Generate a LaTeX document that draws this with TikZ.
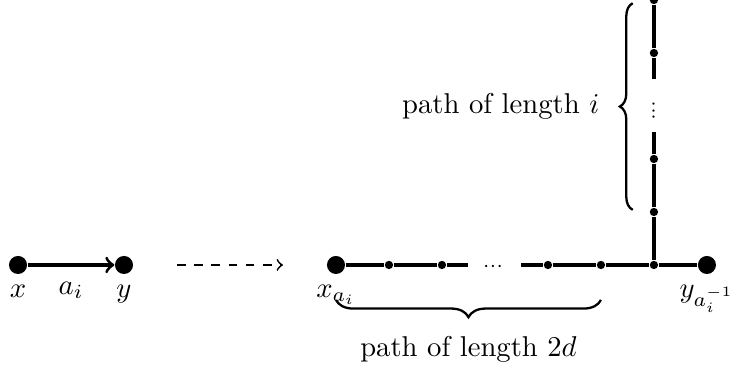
\documentclass[tikz,border=0pt]{standalone}
\usepackage{amsmath}
\usetikzlibrary{positioning}
\usetikzlibrary{decorations.pathreplacing}

\begin{document}
\begin{tikzpicture}[x=0.65cm, y=0.65cm,
  bigdot/.style={circle, fill=black, inner sep=0pt, minimum size=6.3pt},
  smalldot/.style={circle, fill=black, inner sep=0pt, minimum size=2.9pt},
  pathedge/.style={line width=1.4pt},
  gapdots/.style={inner sep=0pt},
  bracestyle/.style={decorate, decoration={brace, amplitude=#1}, thick},
  bracestyle/.default=4.5pt]

\useasboundingbox (-0.34,-1.98) rectangle (13.53,5);

% single edge
\node[bigdot, label={below:$x$}] (x) at (0,0) {};
\node[bigdot, label={below:$y$}] (y) at (2,0) {};
\draw[line width=1.1pt, ->] (x) -- node[below=2pt] {$a_i$} (y);

\coordinate (d1) at (3,0);
\coordinate (d2) at (5,0);
\draw[dashed, semithick, ->] (d1) -- (d2);

% horizontal path
\node[bigdot, label={below:$x_{a_i}$}] (xa) at (6,0) {};
\node[smalldot] (h1) at (7,0) {};
\node[smalldot] (h2) at (8,0) {};
\coordinate (h2e) at (8.5,0);
\node[gapdots] (hdots) at (9,-0.03) {$\scriptstyle\cdots$};
\coordinate (h3s) at (9.5,0);
\node[smalldot] (h3) at (10,0) {};
\node[smalldot] (h4) at (11,0) {};
\node[smalldot] (h5) at (12,0) {};
\node[bigdot, label={below:$y_{a_i^{-1}}$}] (ya) at (13,0) {};

\draw[pathedge] (xa) -- (h1) -- (h2) -- (h2e);
\draw[pathedge] (h3s) -- (h3) -- (h4) -- (h5) -- (ya);

% vertical path
\node[smalldot] (v1) at (12,1) {};
\node[smalldot] (v2) at (12,2) {};
\coordinate (v2e) at (12,2.5);
\node[gapdots, rotate=90] (vdots) at (12,2.95) {$\scriptstyle\cdots$};
\coordinate (v3s) at (12,3.5);
\node[smalldot] (v3) at (12,4) {};
\node[smalldot] (v4) at (12,5) {};

\draw[pathedge] (h5) -- (v1) -- (v2) -- (v2e);
\draw[pathedge] (v3s) -- (v3) -- (v4);

% braces
\coordinate (bi1) at (11.6,1.04);
\coordinate (bi2) at (11.6,4.94);
\draw[bracestyle] (bi1) -- (bi2) node[midway, left=8pt] (leni) {path of length $i$};

\coordinate (bd1) at (6,-0.66);
\coordinate (bd2) at (11,-0.66);
\draw[bracestyle=6pt] (bd2) -- (bd1) node[midway, below=9pt] (lend) {path of length $2d$};

\end{tikzpicture}
\end{document}
